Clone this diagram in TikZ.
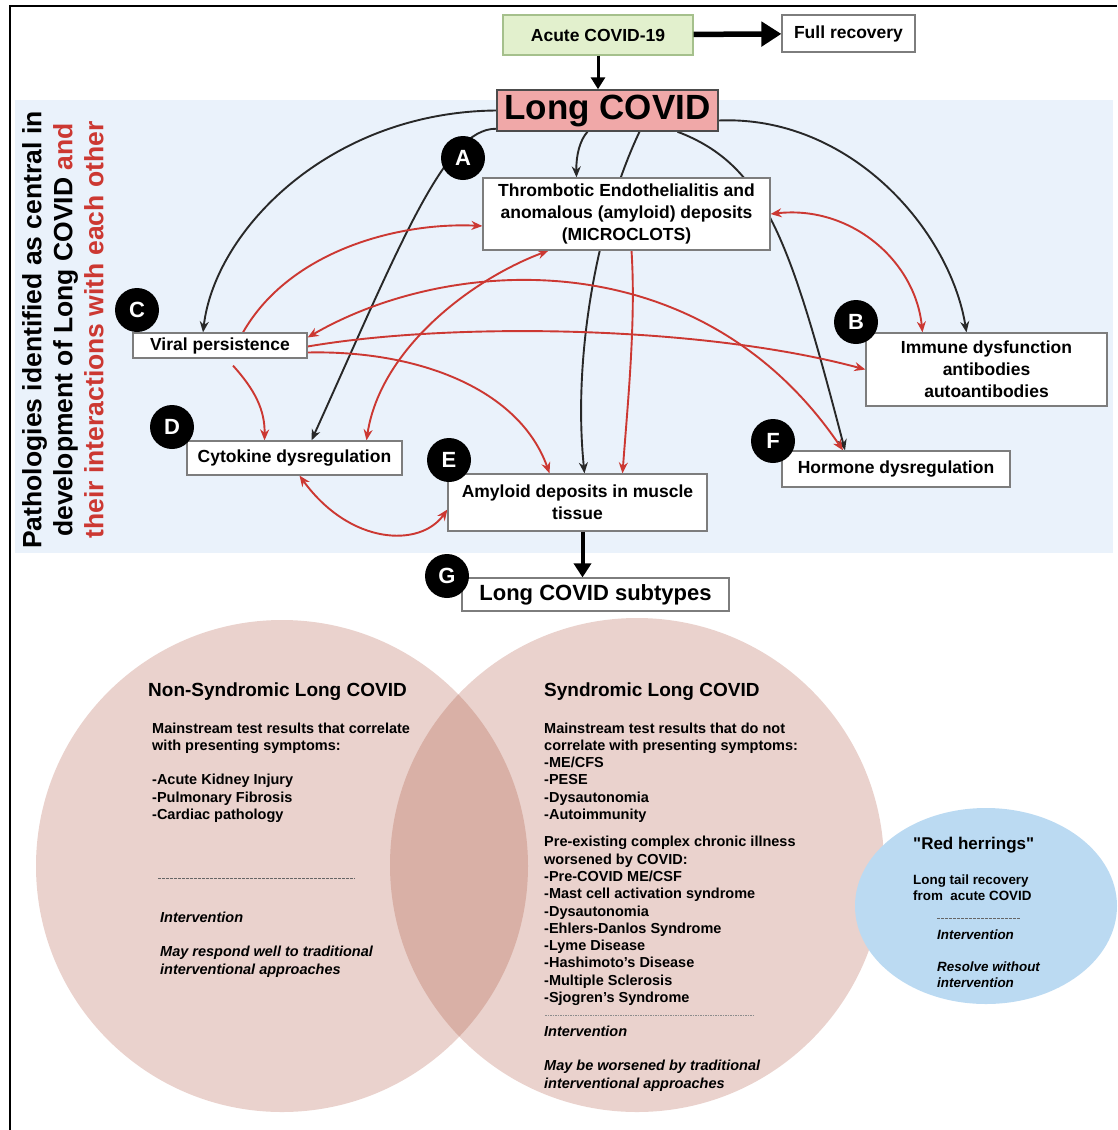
\documentclass[tikz,border=0pt]{standalone}
\usepackage{fontspec}
\setmainfont{Liberation Sans}
\newfontfamily\quotefont{Liberation Sans}
\usetikzlibrary{arrows.meta}
\definecolor{arrred}{RGB}{204,56,50}
\definecolor{arrblk}{RGB}{40,40,40}
\definecolor{boxgray}{RGB}{125,125,125}
\definecolor{lcpink}{RGB}{240,168,168}
\definecolor{acgreen}{RGB}{226,240,205}
\definecolor{acedge}{RGB}{165,192,140}
\definecolor{panelblue}{RGB}{234,242,251}
\definecolor{vennpink}{RGB}{234,210,205}
\definecolor{venndark}{RGB}{217,176,166}
\definecolor{herring}{RGB}{187,218,242}
\pgfdeclarelayer{bg}
\pgfdeclarelayer{edges}
\pgfsetlayers{bg,edges,main}

\begin{document}
\begin{tikzpicture}[x=1pt,y=-1pt,
  every node/.style={font=\bfseries},
  box/.style={draw=boxgray,fill=white,line width=1.2pt,align=center,inner sep=0pt,font=\fontsize{17.5}{22}\selectfont\bfseries},
  letter/.style={circle,fill=black,text=white,minimum size=44pt,inner sep=0pt,font=\fontsize{22}{22}\selectfont\bfseries},
  blk/.style={arrblk,line width=1.9pt,-{Stealth[length=11pt,width=9pt]}},
  rarr/.style={arrred,line width=1.9pt,-{Stealth[length=11pt,width=9pt]}},
  rarrs/.style={rarr,{Stealth[length=11pt,width=9pt]}-{Stealth[length=11pt,width=9pt]}},
  venntitle/.style={anchor=base west,inner sep=0pt,font=\fontsize{19}{22}\selectfont\bfseries},
  venntxt/.style={anchor=base west,align=left,inner sep=0pt,font=\fontsize{14.5}{17.3}\selectfont\bfseries},
  vennint/.style={venntxt,font=\fontsize{14.5}{17.3}\selectfont\bfseries\itshape}
]
\useasboundingbox (0,0) rectangle (1117,1130);

\begin{pgfonlayer}{bg}
\fill[panelblue] (15,100) rectangle (1113,553);
\fill[vennpink] (282,866) circle (246);
\fill[vennpink] (637,865) circle (247);
\begin{scope}
\clip (282,866) circle (246);
\fill[venndark] (637,865) circle (247);
\end{scope}
\fill[herring] (986,906) ellipse (131 and 98);
\end{pgfonlayer}
\draw[line width=2pt] (10,1130) -- (10,6) -- (1117,6);

\node[box,draw=acedge,fill=acgreen,minimum width=190pt,minimum height=40pt] (acute) at (598,35) {Acute COVID-19};
\node[box,minimum width=133pt,minimum height=37pt] (full) at (848.5,33.5) {Full recovery};
\node[box,draw=black!70,fill=lcpink,line width=1.5pt,minimum width=221pt,minimum height=41pt,font=\fontsize{35}{40}\selectfont\bfseries] (lc) at (607.5,110.5) {Long COVID};
\node[box,minimum width=287pt,minimum height=72pt] (thromb) at (626.5,214) {Thrombotic Endothelialitis and\\anomalous (amyloid) deposits\\(MICROCLOTS)};
\node[box,minimum width=174pt,minimum height=25pt] (viral) at (220,345.5) {Viral persistence};
\node[box,minimum width=241pt,minimum height=73pt] (immune) at (986.5,369.5) {Immune dysfunction\\antibodies\\autoantibodies};
\node[box,minimum width=215pt,minimum height=34pt] (cyto) at (294.5,458) {Cytokine dysregulation};
\node[box,minimum width=259pt,minimum height=57pt] (amyloid) at (577.5,502.5) {Amyloid deposits in muscle\\tissue};
\node[box,minimum width=228pt,minimum height=36pt] (hormone) at (896,469) {Hormone dysregulation};
\node[box,minimum width=267pt,minimum height=33pt,font=\fontsize{22}{26}\selectfont\bfseries] (subtypes) at (595.5,594.5) {Long COVID subtypes};

\node[letter] (la) at (463,158) {A};
\node[letter] (lb) at (856,322) {B};
\node[letter] (lcc) at (137,310) {C};
\node[letter] (ld) at (172,427) {D};
\node[letter] (le) at (449,460) {E};
\node[letter] (lf) at (773,441) {F};
\node[letter] (lg) at (447,576) {G};

\node[rotate=90,align=center,inner sep=0pt,font=\fontsize{26.5}{31}\selectfont\bfseries] (sidetitle) at (63,330)
  {Pathologies identified as central in\\development of Long COVID \textcolor{arrred}{and}\\\textcolor{arrred}{their interactions with each other}};

\draw[line width=5.5pt,-{Triangle[length=20pt,width=24pt]}] (acute) -- (full);
\draw[line width=3pt,-{Triangle[length=12pt,width=14pt]}] (acute.south) -- (acute.south |- lc.north);
\draw[line width=4pt,-{Triangle[length=14pt,width=17pt]}] ([xshift=5]amyloid.south) -- ([xshift=-13]subtypes.north);

\begin{pgfonlayer}{edges}
\draw[blk] (lc.west) .. controls (330,112) and (215,230) .. ([xshift=-17]viral.north);
\draw[blk] ([yshift=3pt]lc.south west) .. controls (445,128) and (400,245) .. ([xshift=17]cyto.north);
\draw[blk] ([xshift=-20]lc.south) .. controls (580,140) and (576,155) .. ([xshift=-50]thromb.north);
\draw[blk] ([xshift=32]lc.south) .. controls (600,215) and (572,350) .. ([xshift=7]amyloid.north);
\draw[blk] ([xshift=70]lc.south) .. controls (765,165) and (790,240) .. ([xshift=-51]hormone.north);
\draw[blk] ([yshift=-10pt]lc.east) .. controls (850,115) and (950,230) .. ([xshift=-20]immune.north);

\draw[rarr] ([xshift=23]viral.north) .. controls (290,250) and (400,222) .. ([yshift=-12pt]thromb.west);
\draw[rarrs] ([xshift=-78]thromb.south) .. controls (470,280) and (380,350) .. ([xshift=72]cyto.north);
\draw[rarrs] (thromb.east) .. controls (850,205) and (915,260) .. ([xshift=-64]immune.north);
\draw[rarrs] ([yshift=8pt]viral.east) .. controls (450,255) and (700,240) .. ([xshift=-53]hormone.north);
\draw[rarr] ([yshift=-1pt]viral.east) .. controls (450,322) and (700,325) .. (immune.west);
\draw[rarr] ([yshift=-7pt]viral.east) .. controls (420,350) and (520,390) .. ([xshift=-28]amyloid.north);
\draw[rarr] ([xshift=13,yshift=-7pt]viral.south) .. controls (255,390) and (265,410) .. ([xshift=-30]cyto.north);
\draw[rarr] ([xshift=5]thromb.south) .. controls (636,320) and (628,400) .. ([xshift=45]amyloid.north);
\draw[rarrs] ([xshift=5]cyto.south) .. controls (350,545) and (420,548) .. ([yshift=-7pt]amyloid.west);
\end{pgfonlayer}

\node[venntitle] (nstitle) at (148,696) {Non-Syndromic Long COVID};
\node[venntxt] (nstests) at (152,819.5) {Mainstream test results that correlate\\with presenting symptoms:\\[17.3pt]-Acute Kidney Injury\\-Pulmonary Fibrosis\\-Cardiac pathology};
\draw[black!60,dash pattern=on 2.5pt off 1.5pt] (158,878) -- (355,878);
\node[vennint] (nsint) at (160,974) {Intervention\\[17.3pt]May respond well to traditional\\interventional approaches};

\node[venntitle] (stitle) at (544,696) {Syndromic Long COVID};
\node[venntxt] (stests) at (544,1002.5) {Mainstream test results that do not\\correlate with presenting symptoms:\\-ME/CFS\\-PESE\\-Dysautonomia\\-Autoimmunity\\[10pt]Pre-existing complex chronic illness\\worsened by COVID:\\-Pre-COVID ME/CSF\\-Mast cell activation syndrome\\-Dysautonomia\\-Ehlers-Danlos Syndrome\\-Lyme Disease\\-Hashimoto's Disease\\-Multiple Sclerosis\\-Sjogren's Syndrome};
\draw[black!45,dash pattern=on 1.5pt off 1pt] (545,1015) -- (755,1015);
\node[vennint] (sint) at (544,1088) {Intervention\\[17.3pt]May be worsened by traditional\\interventional approaches};

\node[venntitle,font=\fontsize{17}{20}\selectfont\bfseries] (rhtitle) at (913,849) {{\quotefont"}Red herrings{\quotefont"}};
\node[venntxt,font=\fontsize{13.4}{16}\selectfont\bfseries] (rhtxt) at (913,900) {Long tail recovery\\from\ \ acute COVID};
\draw[black!60,dash pattern=on 2.5pt off 1.5pt] (937,918) -- (1020,918);
\node[vennint,font=\fontsize{13.4}{16}\selectfont\bfseries\itshape] (rhint) at (937,987) {Intervention\\[16pt]Resolve without\\intervention};
\end{tikzpicture}
\end{document}
